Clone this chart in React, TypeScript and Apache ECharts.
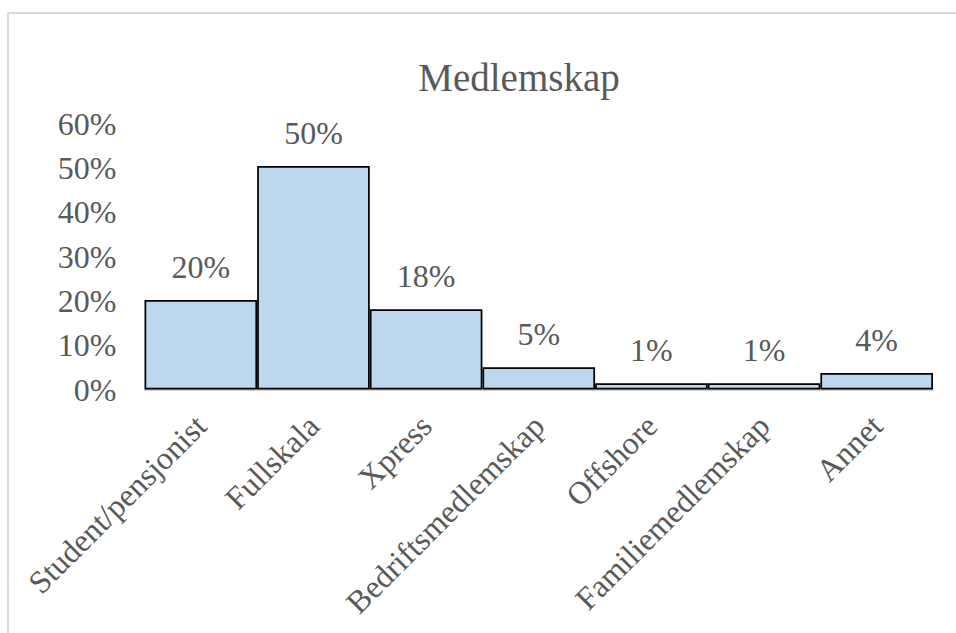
import React, { useEffect, useRef } from "react";
import * as echarts from "echarts";

const titleText = "Medlemskap";
const categories = [
  "Student/pensjonist",
  "Fullskala",
  "Xpress",
  "Bedriftsmedlemskap",
  "Offshore",
  "Familiemedlemskap",
  "Annet",
];
const shares = [20.2, 50.4, 18.1, 5.0, 1.4, 1.4, 3.7];
const yMin = 0;
const yMax = 60;
const yStep = 10;

const FONT = "'Times New Roman', 'Liberation Serif', serif";
const TEXT_COLOR = "#595959";

export default function App() {
  const ref = useRef<HTMLDivElement>(null);
  useEffect(() => {
    document.body.style.margin = "0";
    if (!ref.current) return;
    const chart = echarts.init(ref.current, undefined, { renderer: "svg" });
    chart.setOption({
      animation: false,
      backgroundColor: "#ffffff",
      title: {
        text: titleText,
        left: 514,
        top: 53,
        textAlign: "center",
        textStyle: {
          fontFamily: FONT,
          fontSize: 39,
          fontWeight: "normal",
          color: TEXT_COLOR,
        },
      },
      graphic: [
        {
          type: "line",
          silent: true,
          shape: { x1: 8, y1: 13, x2: 956, y2: 13 },
          style: { stroke: "#D9D9D9", lineWidth: 2 },
        },
        {
          type: "line",
          silent: true,
          shape: { x1: 8, y1: 13, x2: 8, y2: 633 },
          style: { stroke: "#D9D9D9", lineWidth: 2 },
        },
      ],
      grid: { left: 144.5, right: 23, top: 123.5, bottom: 243.5, containLabel: false },
      xAxis: {
        type: "category",
        data: categories,
        axisLine: { show: true, lineStyle: { color: "#BFBFBF", width: 1.5 } },
        axisTick: { show: false },
        axisLabel: {
          interval: 0,
          rotate: 45,
          margin: 31,
          fontFamily: FONT,
          fontSize: 32,
          color: TEXT_COLOR,
        },
      },
      yAxis: {
        type: "value",
        min: yMin,
        max: yMax,
        interval: yStep,
        axisLine: { show: false },
        axisTick: { show: false },
        splitLine: { show: false },
        axisLabel: {
          formatter: "{value}%",
          margin: 28,
          fontFamily: FONT,
          fontSize: 32,
          color: TEXT_COLOR,
        },
      },
      series: [
        {
          type: "bar",
          data: shares,
          barCategoryGap: "0%",
          itemStyle: { color: "#BDD7EE", borderColor: "#000000", borderWidth: 1.75 },
          label: {
            show: true,
            position: "top",
            distance: 17,
            formatter: (p: any) => Math.round(p.value) + "%",
            fontFamily: FONT,
            fontSize: 32,
            color: TEXT_COLOR,
          },
        },
      ],
    });
    return () => chart.dispose();
  }, []);
  return <div ref={ref} style={{ width: 956, height: 633 }} />;
}
